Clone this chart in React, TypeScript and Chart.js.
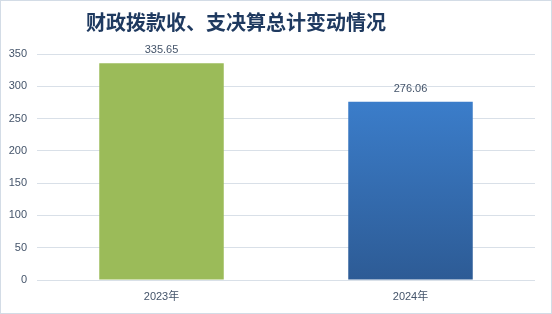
import React, { useEffect, useRef } from "react";
import { Chart, registerables } from "chart.js";

Chart.register(...registerables);

const titleText = "财政拨款收、支决算总计变动情况";
const categories = ["2023年", "2024年"];
const values = [335.65, 276.06];
const yMin = 0;
const yMax = 350;
const yStep = 50;

const TICK_COLOR = "#44546A";
const GRID_COLOR = "#D9E0E8";
const FONT_FAMILY = "'Liberation Sans', 'Noto Sans CJK SC', sans-serif";

export default function App() {
  const ref = useRef<HTMLCanvasElement | null>(null);

  useEffect(() => {
    if (!ref.current) return;

    const framePlugin = {
      id: "frame",
      beforeDraw(chart: any) {
        const { ctx, width, height } = chart;
        ctx.save();
        ctx.fillStyle = "#FFFFFF";
        ctx.fillRect(0, 0, width, height);
        ctx.strokeStyle = "#D3DCE6";
        ctx.lineWidth = 1;
        ctx.strokeRect(0.5, 0.5, width - 1, height - 1);
        ctx.restore();
      },
      afterDraw(chart: any) {
        const { ctx } = chart;
        ctx.save();
        ctx.fillStyle = "#1F3A60";
        ctx.font = "bold 20px 'Noto Sans CJK SC', sans-serif";
        ctx.textAlign = "center";
        ctx.textBaseline = "middle";
        ctx.fillText(titleText, 236, 22);
        // data labels
        ctx.fillStyle = TICK_COLOR;
        ctx.font = "11px " + FONT_FAMILY;
        const meta = chart.getDatasetMeta(0);
        meta.data.forEach((bar: any, i: number) => {
          ctx.fillText(values[i].toFixed(2), bar.x, bar.y - 13);
        });
        ctx.restore();
      },
    };

    const chart = new Chart(ref.current, {
      type: "bar",
      data: {
        labels: categories,
        datasets: [
          {
            data: values,
            backgroundColor: (c: any) => {
              if (c.dataIndex === 0) return "#9BBB59";
              const ch = c.chart;
              const y = ch.scales && ch.scales.y;
              if (!ch.chartArea || !y) return "#3468AE";
              const top = y.getPixelForValue(values[1]);
              const bottom = y.getPixelForValue(0);
              const g = ch.ctx.createLinearGradient(0, top, 0, bottom);
              g.addColorStop(0, "#3B7DCA");
              g.addColorStop(1, "#2D5B95");
              return g;
            },
            borderWidth: 0,
            categoryPercentage: 1,
            barPercentage: 0.5,
          },
        ],
      },
      options: {
        responsive: false,
        animation: false,
        devicePixelRatio: 1,
        layout: { padding: { top: 54, right: 17, bottom: 0, left: 0 } },
        plugins: {
          legend: { display: false },
          title: { display: false },
          tooltip: { enabled: false },
        },
        scales: {
          x: {
            grid: { display: false, drawTicks: false },
            border: { display: false },
            ticks: {
              color: TICK_COLOR,
              font: { size: 11, family: FONT_FAMILY },
              padding: 10,
            },
            afterFit: (s: any) => {
              s.height = 34;
            },
          },
          y: {
            min: yMin,
            max: yMax,
            grid: { color: GRID_COLOR, drawTicks: false, lineWidth: 1 },
            border: { display: false },
            ticks: {
              stepSize: yStep,
              color: TICK_COLOR,
              font: { size: 11, family: FONT_FAMILY },
              padding: 10,
            },
            afterFit: (s: any) => {
              s.width = 37;
            },
          },
        },
      },
      plugins: [framePlugin],
    } as any);

    return () => chart.destroy();
  }, []);

  return (
    <div style={{ position: "fixed", left: 0, top: 0, width: 552, height: 314 }}>
      <canvas ref={ref} width={552} height={314} style={{ display: "block", width: 552, height: 314 }} />
    </div>
  );
}
